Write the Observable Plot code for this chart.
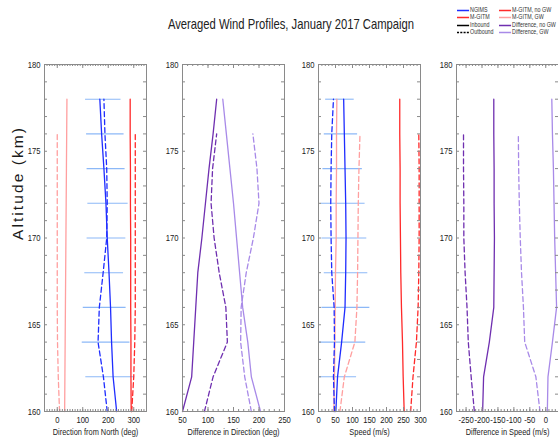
<!DOCTYPE html>
<html>
<head>
<meta charset="utf-8">
<script src="https://cdn.jsdelivr.net/npm/d3@7"></script>
<script src="https://cdn.jsdelivr.net/npm/@observablehq/plot@0.6"></script>
<style>
  html, body { margin: 0; padding: 0; background: #fff; overflow: hidden; }
  #wrap { position: relative; width: 558px; height: 439px; overflow: hidden; font-family: "Liberation Sans", Arial, sans-serif; }
  #title { position: absolute; top: 16px; left: 0; width: 582px; text-align: center; font-size: 15px; line-height: 1; color: #222; transform: scaleX(0.75); transform-origin: 291px 0; }
  .panel { position: absolute; top: 0; }
  .leg { position: absolute; font-size: 6.5px; color: #333; line-height: 1; white-space: nowrap; transform: scaleX(0.82); transform-origin: 0 50%; }
  .leg svg { vertical-align: middle; margin-right: 1px; }
</style>
</head>
<body>
<div id="wrap">
  <div id="title">Averaged Wind Profiles, January 2017 Campaign</div>
</div>
<script>
// ---------- data ----------
const altIn  = [160,162,164,166,168,170,172,174,176,178];
const altOut = [160,162,164,166,168,170,172,174,176];
const altErr = [162,164,166,168,170,172,174,176,178];
const yTicks = [160,165,170,175,180];

// Panel 1: Direction from North (deg)
const dirNgimsIn   = [233,219,213,209,203,196,191,183,174,167];
const dirNgimsOut  = [196,181,160,165,180,194,196,194,187,183];
const dirGitmIn    = [290,289,289,288,288,288,287,287,286,286];
const dirGitmOut   = [292,300,304,306,306,306,306,306,306];
const dirGitmGwIn  = [29,30,31,32,33,34,35,36,37,38];
const dirGitmGwOut = [9,4,1,0,0,0,0,0,0];
const dirErrLo     = [112,98,102,108,117,120,117,115,111];
const dirErrHi     = [304,285,270,260,269,278,266,262,250];
const dirTicks     = [0,100,200,300];

// Panel 2: Difference in Direction (deg)
const ddirNoGwIn  = [50,68,72,76,80,88,95,102,110,117];
const ddirNoGwOut = [93,110,138,135,122,112,106,109,117];
const ddirGwIn    = [203,185,178,168,162,156,150,143,136,129];
const ddirGwOut   = [185,172,164,165,175,189,200,196,188];
const ddirTicks   = [50,100,150,200,250];

// Panel 3: Speed (m/s)
const spdNgimsIn   = [51,56,68,78,80,81,80,78,76,74];
const spdNgimsOut  = [47,44,47,46,39,37,36,37,39,44];
const spdGitmIn    = [252,249,247,244,242,241,240,240,239,239];
const spdGitmOut   = [271,278,288,293,295,296,296,296,295];
const spdGitmGwIn  = [45,47,48,49,50,52,52,53,53,54];
const spdGitmGwOut = [63,76,107,113,115,116,117,119,122];
const spdErrLo     = [2,2,10,17,10,8,13,17,21];
const spdErrHi     = [112,139,151,145,142,137,129,115,105];
const spdTicks     = [0,50,100,150,200,250,300];

// Panel 4: Difference in Speed (m/s)
const dspdNoGwIn  = [-198,-195,-177,-163,-162,-161,-162,-162,-163,-163];
const dspdNoGwOut = [-224,-234,-243,-247,-253,-257,-257,-258,-258];
const dspdGwIn    = [5,7,21,34,31,28,26,24,21,19];
const dspdGwOut   = [-18,-31,-66,-70,-76,-80,-83,-85,-86];
const dspdTicks   = [-250,-200,-150,-100,-50,0];

// ---------- styles ----------
const C = {
  ngims: "#1f2dff",
  gitm: "#ff2a2a",
  gitmGw: "#ff9f9f",
  diffNoGw: "#6f2fb0",
  diffGw: "#a88ae8",
  err: "#8cb8f7",
  axis: "#8a8a8a"
};
const DASH = "5,3";
const TOP = 64, BOTTOM = 28, H = 439;
const FW = 102; // frame width
const ML = 36, MR = 4;
const NARROW = 0.78;

function rows(alts, vals) { return alts.map((a, i) => ({alt: a, v: vals[i]})); }

function condense(svg, k) {
  svg.querySelectorAll("text").forEach(t => {
    const tr = t.getAttribute("transform");
    if (tr && !tr.includes("rotate")) t.setAttribute("transform", tr + ` scale(${k},1)`);
    else if (tr && tr.includes("rotate")) { t.setAttribute("textLength", 112); t.setAttribute("lengthAdjust", "spacing"); }
  });
}

function panel({left, domain, ticks, minorStep, label, lines, errs, extra = []}) {
  const innerH = H - TOP - BOTTOM;
  const xMinor = d3.range(Math.ceil(domain[0] / minorStep) * minorStep, domain[1] + 1e-9, minorStep);
  const yMinor = d3.range(160, 181, 1);
  const marks = [];
  if (errs) marks.push(Plot.ruleY(errs, {y: "alt", x1: "lo", x2: "hi", stroke: C.err, strokeWidth: 1.1}));
  for (const L of lines) {
    marks.push(Plot.line(L.data, {x: "v", y: "alt", stroke: L.color, strokeWidth: L.w || 1.3, strokeDasharray: L.dash ? DASH : null}));
  }
  marks.push(
    Plot.frame({stroke: C.axis, strokeWidth: 1}),
    Plot.tickY(yMinor, {y: d => d, insetRight: FW - 3, stroke: C.axis}),
    Plot.tickY(yMinor, {y: d => d, insetLeft: FW - 3, stroke: C.axis}),
    Plot.tickX(xMinor, {x: d => d, insetBottom: innerH - 2, stroke: C.axis}),
    Plot.tickX(xMinor, {x: d => d, insetTop: innerH - 2, stroke: C.axis}),
    Plot.tickX(ticks, {x: d => d, insetBottom: innerH - 4, stroke: C.axis}),
    Plot.tickX(ticks, {x: d => d, insetTop: innerH - 4, stroke: C.axis}),
    Plot.axisY(yTicks, {tickSize: 0, tickPadding: 4, label: null, fontSize: 9.8, fill: "#1a1a1a"}),
    Plot.axisX(ticks, {tickSize: 0, tickPadding: 5, label: null, tickFormat: d => String(d), fontSize: 9.8, fill: "#1a1a1a"}),
    Plot.text([label], {text: d => d, frameAnchor: "bottom", dy: 23, fontSize: 9.5, fill: "#1a1a1a"}),
    ...extra
  );
  const chart = Plot.plot({
    width: ML + FW + MR,
    height: H,
    marginTop: TOP,
    marginBottom: BOTTOM,
    marginLeft: ML,
    marginRight: MR,
    x: {domain},
    y: {domain: [160, 180]},
    style: {background: "transparent", fontFamily: "'Liberation Sans', Arial, sans-serif", overflow: "visible"},
    marks
  });
  condense(chart, NARROW);
  chart.classList.add("panel");
  chart.style.left = (left - ML) + "px";
  chart.style.maxWidth = "none";
  document.getElementById("wrap").appendChild(chart);
}

const errRows = (lo, hi) => altErr.map((a, i) => ({alt: a, lo: lo[i], hi: hi[i]}));

panel({
  left: 44, domain: [-50, 350], ticks: dirTicks, minorStep: 10,
  label: "Direction from North (deg)",
  errs: errRows(dirErrLo, dirErrHi),
  lines: [
    {data: rows(altIn, dirGitmGwIn), color: C.gitmGw},
    {data: rows(altOut, dirGitmGwOut), color: C.gitmGw, dash: true},
    {data: rows(altIn, dirGitmIn), color: C.gitm},
    {data: rows(altOut, dirGitmOut), color: C.gitm, dash: true},
    {data: rows(altIn, dirNgimsIn), color: C.ngims},
    {data: rows(altIn, dirNgimsOut), color: C.ngims, dash: true}
  ],
  extra: [
    Plot.text(["Altitude (km)"], {text: d => d, frameAnchor: "left", dx: -26.5, dy: 2, rotate: -90, fontSize: 15.5, fontWeight: 500, fill: "#1a1a1a", fontFamily: "'Liberation Sans', Arial, sans-serif"})
  ]
});

panel({
  left: 182, domain: [50, 250], ticks: ddirTicks, minorStep: 10,
  label: "Difference in Direction (deg)",
  lines: [
    {data: rows(altIn, ddirGwIn), color: C.diffGw},
    {data: rows(altOut, ddirGwOut), color: C.diffGw, dash: true},
    {data: rows(altIn, ddirNoGwIn), color: C.diffNoGw},
    {data: rows(altOut, ddirNoGwOut), color: C.diffNoGw, dash: true}
  ]
});

panel({
  left: 318, domain: [0, 300], ticks: spdTicks, minorStep: 10,
  label: "Speed (m/s)",
  errs: errRows(spdErrLo, spdErrHi),
  lines: [
    {data: rows(altIn, spdGitmGwIn), color: C.gitmGw},
    {data: rows(altOut, spdGitmGwOut), color: C.gitmGw, dash: true},
    {data: rows(altIn, spdGitmIn), color: C.gitm},
    {data: rows(altOut, spdGitmOut), color: C.gitm, dash: true},
    {data: rows(altIn, spdNgimsIn), color: C.ngims},
    {data: rows(altIn, spdNgimsOut), color: C.ngims, dash: true}
  ]
});

panel({
  left: 456, domain: [-280, 40], ticks: dspdTicks, minorStep: 10,
  label: "Difference in Speed (m/s)",
  lines: [
    {data: rows(altIn, dspdGwIn), color: C.diffGw},
    {data: rows(altOut, dspdGwOut), color: C.diffGw, dash: true},
    {data: rows(altIn, dspdNoGwIn), color: C.diffNoGw},
    {data: rows(altOut, dspdNoGwOut), color: C.diffNoGw, dash: true}
  ]
});

// ---------- legend ----------
const legendLeft  = [["NGIMS", C.ngims, false], ["M-GITM", C.gitm, false], ["Inbound", "#000", false], ["Outbound", "#000", true]];
const legendRight = [["M-GITM, no GW", C.gitm, false], ["M-GITM, GW", C.gitmGw, false], ["Difference, no GW", C.diffNoGw, false], ["Difference, GW", C.diffGw, false]];
const rowY = [10, 17.5, 25, 32.7];
function addLegend(items, x) {
  items.forEach(([name, color, dash], i) => {
    const div = document.createElement("div");
    div.className = "leg";
    div.style.left = x + "px";
    div.style.top = (rowY[i] - 3.5) + "px";
    div.innerHTML = `<svg width="15" height="7"><line x1="0" x2="15" y1="3.5" y2="3.5" stroke="${color}" stroke-width="1.3" ${dash ? 'stroke-dasharray="2.5,1.5"' : ""}/></svg>${name}`;
    document.getElementById("wrap").appendChild(div);
  });
}
addLegend(legendLeft, 456.5);
addLegend(legendRight, 498.5);
</script>
</body>
</html>
